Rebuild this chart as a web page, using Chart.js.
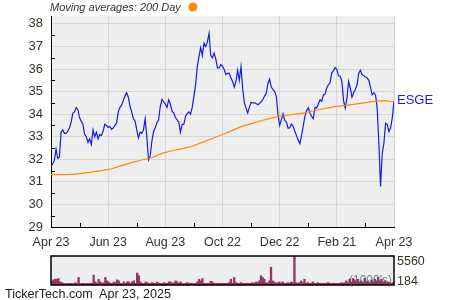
<!DOCTYPE html>
<html><head><meta charset="utf-8">
<script src="https://cdn.jsdelivr.net/npm/chart.js@4.4.1/dist/chart.umd.min.js"></script>
<style>
html,body{margin:0;padding:0;background:#fff;width:450px;height:300px;overflow:hidden;}
#main{position:absolute;left:0;top:0;}
#vol{position:absolute;left:0;top:250px;}
#footer{position:absolute;left:5px;top:287px;font:12.6px "Liberation Sans",Arial,sans-serif;color:#222;white-space:pre;line-height:14px;}
</style></head><body>
<canvas id="main" width="450" height="250"></canvas>
<canvas id="vol" width="450" height="40"></canvas>
<div id="footer">TickerTech.com  Apr 23, 2025</div>
<script>
const titleText = 'Moving averages: 200 Day';
const seriesName = 'ESGE';
const tickLabels = ['Apr 23','Jun 23','Aug 23','Oct 22','Dec 22','Feb 21','Apr 23'];
const yTicks = [29,30,31,32,33,34,35,36,37,38];
const volLabels = ['5560','184'];

const prices = [
31.66,31.8,31.95,32.45,32.05,32.1,33.2,33.3,33.15,33.15,33.25,33.4,33.65,34.05,34.1,34.3,34.2,33.85,33.68,33.55,33.1,33.0,32.75,32.9,32.65,33.3,33.0,33.2,32.9,33.1,33.05,33.25,33.55,33.5,33.42,33.45,
33.33,33.38,33.5,33.6,34.1,34.3,34.4,34.6,34.8,34.95,34.75,34.35,34.1,33.8,33.7,33.3,32.95,33.2,33.15,33.3,33.8,33.0,31.98,32.15,32.8,33.23,33.4,33.62,33.75,34.35,34.65,34.55,34.45,34.3,
34.64,34.45,34.12,34.06,33.85,33.75,33.65,33.2,33.55,33.55,33.9,34.02,34.1,34.0,34.3,34.8,35.3,36.1,36.55,36.95,36.6,37.15,37.0,37.2,37.58,36.6,36.5,36.7,36.45,36.05,36.05,36.2,36.12,35.98,
35.76,35.81,35.82,35.61,35.45,35.2,35.46,35.95,35.5,36.1,35.15,34.5,34.27,34.05,34.3,34.52,34.5,34.5,34.47,34.42,34.47,34.55,34.64,34.8,34.92,35.35,35.55,35.2,35.1,35.0,34.8,34.0,33.5,33.75,
34.02,33.72,33.66,33.38,33.4,33.57,33.46,33.25,33.05,32.86,32.7,33.05,33.46,33.9,34.15,34.28,34.05,33.9,33.8,34.3,34.27,34.45,34.64,34.57,34.84,34.9,35.16,35.3,35.4,35.83,35.93,36.07,35.98,35.7,
35.68,35.45,34.6,34.27,34.7,35.45,35.16,34.75,34.95,35.09,35.3,35.8,35.95,35.76,35.7,35.65,35.61,35.5,35.2,34.86,34.95,34.85,34.27,32.71,30.8,32.27,32.71,33.6,33.55,33.23,33.4,33.85,34.6
];

// 200-day moving average, one value every 6 trading days
const maStep = 6;
const ma200 = [
31.32,31.32,31.33,31.38,31.43,31.50,31.58,31.72,31.85,31.97,32.08,32.26,32.38,32.47,32.58,32.75,32.92,33.10,
33.28,33.47,33.60,33.73,33.85,33.93,33.99,34.05,34.14,34.24,34.32,34.38,34.43,34.50,34.57,34.60,34.55
];

// volume (thousands)
const volume = [
700,1000,1110,1110,1245,590,460,330,260,300,260,330,300,260,460,300,1440,260,300,330,
260,300,280,330,300,1900,590,330,1110,590,330,460,1440,790,590,330,300,590,460,980,
790,330,300,590,330,590,590,300,590,790,330,2290,1770,590,330,300,590,460,330,300,
460,330,300,590,330,300,260,460,330,300,590,590,330,460,790,590,330,590,300,260,
300,460,300,330,280,260,330,590,1110,790,1245,330,300,330,300,720,590,330,300,330,
300,330,300,330,300,330,460,1110,330,1440,460,330,300,460,330,300,330,330,300,330,
460,330,590,460,790,1770,1440,1110,460,330,790,3400,790,590,330,460,590,330,590,330,
300,460,330,590,460,5560,460,330,460,790,460,1110,330,460,300,330,590,330,300,460,
300,330,300,330,300,460,330,300,330,330,300,330,300,460,330,460,790,460,1110,590,
1245,980,590,1110,590,790,460,1245,590,790,460,980,590,1110,790,1440,790,1110,590,790,
460,590,460,330,460
];
const volMax = 5560;

const FONT = '"Liberation Sans", Arial, sans-serif';
const lastIdx = prices.length - 1;
const tickEvery = lastIdx / (tickLabels.length - 1);

const bgPlugin = {
  id: 'bg',
  beforeDraw(chart) {
    const {ctx, chartArea: a} = chart;
    ctx.save();
    ctx.fillStyle = '#eeeeee';
    ctx.fillRect(a.left, a.top, a.right - a.left, a.bottom - a.top);
    ctx.restore();
  }
};

const decorPlugin = {
  id: 'decor',
  afterDraw(chart) {
    const {ctx, chartArea: a, scales: {x, y}} = chart;
    ctx.save();
    ctx.strokeStyle = '#000';
    ctx.lineWidth = 1;
    ctx.beginPath();
    for (let k = 0; k < tickLabels.length - 1; k++) {
      const px = Math.round(x.getPixelForValue((k + 0.5) * tickEvery)) + 0.5;
      ctx.moveTo(px, a.bottom); ctx.lineTo(px, a.bottom - 4);
    }
    for (let v = yTicks[0] + 0.5; v < y.max; v += 1) {
      const py = Math.round(y.getPixelForValue(v)) + 0.5;
      ctx.moveTo(a.left, py); ctx.lineTo(a.left + 4, py);
    }
    ctx.stroke();
    ctx.font = 'italic 11px ' + FONT;
    ctx.fillStyle = '#333';
    ctx.textBaseline = 'middle';
    ctx.textAlign = 'left';
    ctx.fillText(titleText, a.left - 1, 8);
    const w = ctx.measureText(titleText).width;
    ctx.fillStyle = '#ff8c00';
    ctx.beginPath(); ctx.arc(a.left + w + 11, 7, 4.5, 0, Math.PI * 2); ctx.fill();
    ctx.font = '13px ' + FONT;
    ctx.fillStyle = '#1a1ae6';
    ctx.fillText(seriesName, a.right + 3, y.getPixelForValue(prices[lastIdx]));
    ctx.restore();
  }
};

new Chart(document.getElementById('main'), {
  type: 'line',
  data: {
    datasets: [
      {
        label: 'MA200',
        data: ma200.map((v, k) => ({x: k * maStep, y: v})),
        borderColor: '#ff8c00', borderWidth: 1.2, pointRadius: 0, tension: 0
      },
      {
        label: seriesName,
        data: prices.map((v, i) => ({x: i, y: v})),
        borderColor: '#1a1ae6', borderWidth: 1.2, pointRadius: 0, tension: 0
      }
    ]
  },
  options: {
    responsive: false, animation: false, devicePixelRatio: 1,
    layout: {padding: {top: 16, right: 56, left: 0, bottom: 0}},
    plugins: {legend: {display: false}, tooltip: {enabled: false}},
    scales: {
      x: {
        type: 'linear', min: 0, max: lastIdx,
        afterBuildTicks: s => { s.ticks = tickLabels.map((t, k) => ({value: k * tickEvery})); },
        afterFit: s => { s.height = 23; },
        grid: {color: '#d6d6d6', drawTicks: false},
        border: {display: true, color: '#000', width: 1},
        ticks: {
          callback: v => tickLabels[Math.round(v / tickEvery)],
          font: {family: FONT, size: 12.5}, color: '#3a3226', padding: 8, maxRotation: 0, autoSkip: false
        }
      },
      y: {
        min: 29, max: 38.35,
        afterBuildTicks: s => { s.ticks = yTicks.map(v => ({value: v})); },
        afterFit: s => { s.width = 51; },
        grid: {color: '#d6d6d6', drawTicks: false},
        border: {display: true, color: '#000', width: 1},
        ticks: {font: {family: FONT, size: 13}, color: '#3a3226', padding: 8}
      }
    }
  },
  plugins: [bgPlugin, decorPlugin]
});

const volDecor = {
  id: 'volDecor',
  afterDraw(chart) {
    const {ctx, chartArea: a} = chart;
    ctx.save();
    ctx.strokeStyle = '#000';
    ctx.lineWidth = 1.5;
    ctx.strokeRect(a.left, a.top, a.right - a.left, a.bottom - a.top);
    ctx.font = '12.5px ' + FONT;
    ctx.fillStyle = '#3a3226';
    ctx.textBaseline = 'middle';
    ctx.textAlign = 'left';
    ctx.fillText(volLabels[0], a.right + 3, a.top + 6);
    ctx.fillText(volLabels[1], a.right + 3, a.bottom - 3);
    ctx.font = '12px ' + FONT;
    ctx.fillStyle = 'rgba(50,105,85,0.75)';
    ctx.textAlign = 'right';
    ctx.fillText("(1000's)", a.right - 2, a.bottom - 4);
    ctx.restore();
  }
};

new Chart(document.getElementById('vol'), {
  type: 'bar',
  data: {
    labels: volume.map((v, i) => i),
    datasets: [{data: volume, backgroundColor: '#993366', borderWidth: 0, barPercentage: 1, categoryPercentage: 1}]
  },
  options: {
    responsive: false, animation: false, devicePixelRatio: 1,
    layout: {padding: {top: 6, right: 56, left: 51, bottom: 5}},
    plugins: {legend: {display: false}, tooltip: {enabled: false}},
    scales: {
      x: {display: false},
      y: {display: false, min: 0, max: volMax}
    }
  },
  plugins: [bgPlugin, volDecor]
});
</script>
</body></html>
